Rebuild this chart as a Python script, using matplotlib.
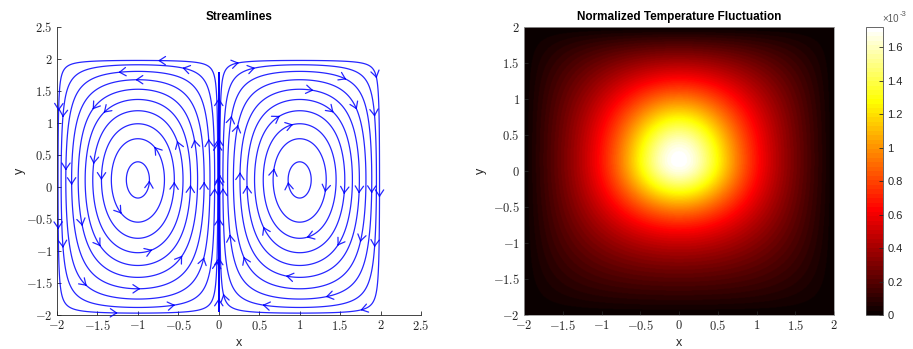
import numpy as np
import matplotlib
matplotlib.use("Agg")
import matplotlib.pyplot as plt
from matplotlib.ticker import FuncFormatter

plt.rcParams['mathtext.fontset'] = 'cm'
plt.rcParams['font.family'] = ['Liberation Sans', 'DejaVu Sans']

# ---- data / field parameters ----
x_lim = [-2.0, 2.0]
y_lim = [-2.0, 2.0]
cell_center_y_shift = 0.07      # skew of stream function (cell centres at y~0.12)
psi_levels = [0.02, 0.08, 0.17, 0.28, 0.40, 0.52, 0.64, 0.76, 0.87, 0.975]  # fraction of max
center_line_y = [-1.95, 1.8]
T_max = 1.72e-3                 # peak of temperature fluctuation
T_center_y = 0.15
T_scale_up = 1.2
T_scale_down = 0.9
T_core = 0.72
cbar_ticks = [0, 0.2e-3, 0.4e-3, 0.6e-3, 0.8e-3, 1.0e-3, 1.2e-3, 1.4e-3, 1.6e-3]
cbar_labels = ['0', '0.2', '0.4', '0.6', '0.8', '1', '1.2', '1.4', '1.6']
left_ticks = [-2, -1.5, -1, -0.5, 0, 0.5, 1, 1.5, 2, 2.5]
right_ticks = [-2, -1.5, -1, -0.5, 0, 0.5, 1, 1.5, 2]

eps = cell_center_y_shift


def g(y):
    return np.cos(np.pi * y / 4) * (1 + eps * y)


def gp(y):
    return -np.pi / 4 * np.sin(np.pi * y / 4) * (1 + eps * y) + eps * np.cos(np.pi * y / 4)


def psi(x, y):
    return -np.sin(np.pi * x / 2) * g(y)


def vel(x, y):
    return -np.sin(np.pi * x / 2) * gp(y), (np.pi / 2) * np.cos(np.pi * x / 2) * g(y)


xs = np.linspace(x_lim[0], x_lim[1], 401)
ys = np.linspace(y_lim[0], y_lim[1], 401)
X, Y = np.meshgrid(xs, ys)
P = psi(X, Y)
pmax = P.max()
lev = sorted([-l * pmax for l in psi_levels] + [l * pmax for l in psi_levels])

xi = np.linspace(-1.5, 1.5, 40)
yi = np.linspace(center_line_y[0], center_line_y[1], 200)
XI, YI = np.meshgrid(xi, yi)
PI_ = psi(XI, YI)

# ---- temperature field ----
xt = np.linspace(-2, 2, 500)
yt = np.linspace(-2, 2, 500)
XT, YT = np.meshgrid(xt, yt)
dy = YT - T_center_y
sy = np.where(dy > 0, T_scale_up, T_scale_down)
r2 = XT ** 2 + (dy / sy) ** 2
T = (1 - (XT / 2) ** 4) * (1 - (YT / 2) ** 4) / (1 + r2 / T_core)
T = T / T.max() * T_max

W, H = 913, 349
fig = plt.figure(figsize=(W / 100, H / 100), dpi=100)
axc = (0.15, 0.15, 0.15)
blue = (0, 0, 1)


def fmt(v, pos):
    return r'$%g$' % v


# ---- left: streamlines ----
ax1 = fig.add_axes([57 / W, (H - 315) / H, 364 / W, 288 / H])
cs = ax1.contour(X, Y, P, levels=lev, colors=[blue], linewidths=0.9, linestyles='solid', alpha=0.85)
cs0 = ax1.contour(XI, YI, PI_, levels=[0.0], colors=[blue], linewidths=1.4, linestyles='solid')


def add_arrows(segs, phase, spacing):
    for seg in segs:
        if len(seg) < 3:
            continue
        d = np.sqrt((np.diff(seg, axis=0) ** 2).sum(axis=1))
        s = np.concatenate([[0], np.cumsum(d)])
        L = s[-1]
        n = int(np.clip(round(L / spacing), 1, 6))
        for k in range(n):
            sk = L * ((k + phase) % n) / n
            i = np.searchsorted(s, sk)
            i = min(max(i, 1), len(seg) - 1)
            px, py = seg[i]
            u, v = vel(px, py)
            m = np.hypot(u, v)
            if m == 0:
                continue
            h = 0.02
            ax1.annotate('', xy=(px + h * u / m, py + h * v / m), xytext=(px, py),
                         arrowprops=dict(arrowstyle='->,head_length=0.45,head_width=0.3',
                                         color=blue, lw=0.9, alpha=0.85,
                                         mutation_scale=10, shrinkA=0, shrinkB=0))


for i, segs in enumerate(cs.allsegs):
    add_arrows(segs, 0.2 + 0.37 * i, 2.0)
for segs in cs0.allsegs:
    add_arrows(segs, 0.3, 0.62)

ax1.set_xlim(-2, 2.5)
ax1.set_ylim(-2, 2.5)
ax1.set_xticks(left_ticks)
ax1.set_yticks(left_ticks)
ax1.xaxis.set_major_formatter(FuncFormatter(fmt))
ax1.yaxis.set_major_formatter(FuncFormatter(fmt))
for s in ['top', 'right']:
    ax1.spines[s].set_visible(False)
for s in ['left', 'bottom']:
    ax1.spines[s].set_color(axc)
    ax1.spines[s].set_linewidth(0.6)
ax1.tick_params(direction='in', length=3, width=0.6, colors=axc, labelsize=9, pad=3)
ax1.set_title('Streamlines', fontsize=8.5, fontweight='bold', pad=5)
ax1.set_xlabel('x', fontsize=9, color=axc, labelpad=3)
ax1.set_ylabel('y', fontsize=9, color=axc, labelpad=0)

# ---- right: temperature ----
ax2 = fig.add_axes([524 / W, (H - 315) / H, 310 / W, 288 / H])
cmap = plt.get_cmap('hot', 64)
im = ax2.imshow(T, extent=[-2, 2, -2, 2], origin='lower', aspect='auto',
                cmap=cmap, vmin=0, vmax=T_max, interpolation='bilinear')
ax2.set_xlim(-2, 2)
ax2.set_ylim(-2, 2)
ax2.set_xticks(right_ticks)
ax2.set_yticks(right_ticks)
ax2.xaxis.set_major_formatter(FuncFormatter(fmt))
ax2.yaxis.set_major_formatter(FuncFormatter(fmt))
for s in ax2.spines.values():
    s.set_color((0.6, 0.6, 0.6))
    s.set_linewidth(0.6)
ax2.tick_params(direction='in', length=3, width=0.6, colors=axc, labelsize=9, pad=3)
ax2.set_title('Normalized Temperature Fluctuation', fontsize=8.5, fontweight='bold', pad=5)
ax2.set_xlabel('x', fontsize=9, color=axc, labelpad=3)
ax2.set_ylabel('y', fontsize=9, color=axc, labelpad=4)

# ---- colorbar ----
cax = fig.add_axes([866 / W, (H - 315) / H, 17 / W, 288 / H])
cb = fig.colorbar(im, cax=cax)
cb.set_ticks(cbar_ticks)
cb.set_ticklabels(cbar_labels)
cb.outline.set_edgecolor((0.3, 0.3, 0.3))
cb.outline.set_linewidth(0.6)
cax.tick_params(direction='in', length=3, width=0.6, colors=axc, labelsize=8, pad=3)
fig.text(882 / W, (H - 22) / H, '×10', fontsize=7, color=(0.35, 0.35, 0.35), ha='left', va='baseline')
fig.text(900 / W, (H - 16) / H, '-3', fontsize=5.5, color=(0.35, 0.35, 0.35), ha='left', va='baseline')

fig.savefig('out.png', dpi=100)
